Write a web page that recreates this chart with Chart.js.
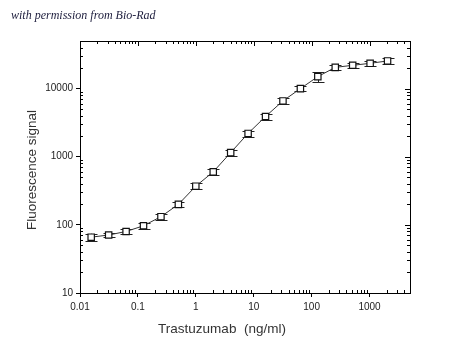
<!DOCTYPE html>
<html>
<head>
<meta charset="utf-8">
<script src="https://cdn.jsdelivr.net/npm/chart.js@4/dist/chart.umd.min.js"></script>
<style>
  body { margin: 0; background: #fff; }
  canvas { display: block; }
</style>
</head>
<body>
<canvas id="chartSignal" width="450" height="359"></canvas>
<script>
// Concentrations (dilution 2x) et signal
const concentrations = [0.0156, 0.03125, 0.0625, 0.125, 0.25, 0.5, 1, 2, 4, 8, 16, 32, 64, 128, 256, 512, 1024, 2048];
const signal = [66, 71, 80, 97, 132, 200, 370, 600, 1150, 2200, 3900, 6600, 10000, 15000, 20500, 22000, 23500, 25500];
const signalErr = [8, 4, 7, 9, 13, 20, 35, 55, 110, 220, 380, 650, 900, 2500, 1800, 2000, 2200, 2300];
const xTickLabels = ['0.01', '0.1', '1', '10', '100', '1000'];
const yTickLabels = ['10', '100', '1000', '10000'];

const FONT = 'Liberation Sans, Arial, sans-serif';

// Cadre, graduations mineures, barres d'erreur et titres
const decorPlugin = {
  id: 'decor',
  beforeDatasetsDraw(chart) {
    const { ctx, scales: { x, y } } = chart;
    ctx.save();
    ctx.strokeStyle = '#222';
    ctx.lineWidth = 1;
    concentrations.forEach((c, i) => {
      const px = Math.round(x.getPixelForValue(c)) + 0.5;
      const top = y.getPixelForValue(signal[i] + signalErr[i]);
      const bot = y.getPixelForValue(Math.max(signal[i] - signalErr[i], 1));
      ctx.beginPath();
      ctx.moveTo(px, top); ctx.lineTo(px, bot);
      ctx.moveTo(px - 6, Math.round(top) + 0.5); ctx.lineTo(px + 6, Math.round(top) + 0.5);
      ctx.moveTo(px - 6, Math.round(bot) + 0.5); ctx.lineTo(px + 6, Math.round(bot) + 0.5);
      ctx.stroke();
    });
    ctx.restore();
  },
  afterDraw(chart) {
    const { ctx, chartArea: a, scales: { x, y } } = chart;
    ctx.save();
    ctx.strokeStyle = '#000';
    ctx.lineWidth = 1;
    // haut et droite
    ctx.beginPath();
    ctx.moveTo(a.left, a.top + 0.5); ctx.lineTo(a.right + 0.5, a.top + 0.5);
    ctx.lineTo(a.right + 0.5, a.bottom);
    ctx.stroke();

    ctx.beginPath();
    // graduations X
    for (let d = -2; d <= 3; d++) {
      for (let m = 1; m <= 9; m++) {
        const v = m * Math.pow(10, d);
        if (v > x.max) break;
        const px = Math.round(x.getPixelForValue(v)) + 0.5;
        const len = m === 1 ? 5 : 3;
        ctx.moveTo(px, a.top); ctx.lineTo(px, a.top + len);
        if (m !== 1) { ctx.moveTo(px, a.bottom); ctx.lineTo(px, a.bottom - len); }
      }
    }
    // graduations Y
    for (let d = 1; d <= 4; d++) {
      for (let m = 1; m <= 9; m++) {
        const v = m * Math.pow(10, d);
        if (v > y.max) break;
        const py = Math.round(y.getPixelForValue(v)) + 0.5;
        const len = m === 1 ? 5 : 3;
        ctx.moveTo(a.right, py); ctx.lineTo(a.right - len, py);
        if (m !== 1) { ctx.moveTo(a.left, py); ctx.lineTo(a.left + len, py); }
      }
    }
    ctx.stroke();

    // titres
    ctx.fillStyle = '#333';
    ctx.font = '13.5px ' + FONT;
    ctx.textAlign = 'center';
    ctx.textBaseline = 'middle';
    ctx.fillText('Trastuzumab  (ng/ml)', 222, 329);
    ctx.save();
    ctx.translate(32, 170);
    ctx.rotate(-Math.PI / 2);
    ctx.fillText('Fluorescence signal', 0, 0);
    ctx.restore();

    ctx.fillStyle = '#1c1c3c';
    ctx.font = 'italic 12px Liberation Serif, serif';
    ctx.textAlign = 'left';
    ctx.fillText('with permission from Bio-Rad', 11, 16);
    ctx.restore();
  }
};

new Chart(document.getElementById('chartSignal'), {
  type: 'line',
  data: {
    labels: concentrations,
    datasets: [{
      data: concentrations.map((c, i) => ({ x: c, y: signal[i] })),
      borderColor: '#333',
      borderWidth: 1,
      pointStyle: 'rect',
      pointRadius: 4.5,
      pointBorderWidth: 1.2,
      pointBorderColor: '#111',
      pointBackgroundColor: '#fff',
      tension: 0
    }]
  },
  options: {
    responsive: false,
    animation: false,
    layout: { padding: { top: 41, right: 40, left: 0, bottom: 0 } },
    plugins: { legend: { display: false }, tooltip: { enabled: false } },
    scales: {
      x: {
        type: 'logarithmic',
        min: 0.01,
        max: 5000,
        border: { color: '#000', width: 1 },
        grid: { drawOnChartArea: false, tickLength: 4, color: '#000' },
        ticks: {
          color: '#222', padding: 4, maxRotation: 0, autoSkip: false,
          font: { size: 10, family: FONT },
          callback: (v, i) => xTickLabels[i]
        },
        afterBuildTicks: s => { s.ticks = xTickLabels.map(t => ({ value: parseFloat(t) })); },
        afterFit: s => { s.height = 66; }
      },
      y: {
        type: 'logarithmic',
        min: 10,
        max: 50000,
        border: { color: '#000', width: 1 },
        grid: { drawOnChartArea: false, tickLength: 4, color: '#000' },
        ticks: {
          color: '#222', padding: 3, autoSkip: false,
          font: { size: 10, family: FONT },
          callback: (v, i) => yTickLabels[i]
        },
        afterBuildTicks: s => { s.ticks = yTickLabels.map(t => ({ value: parseFloat(t) })); },
        afterFit: s => { s.width = 80; }
      }
    }
  },
  plugins: [decorPlugin]
});
</script>
</body>
</html>
